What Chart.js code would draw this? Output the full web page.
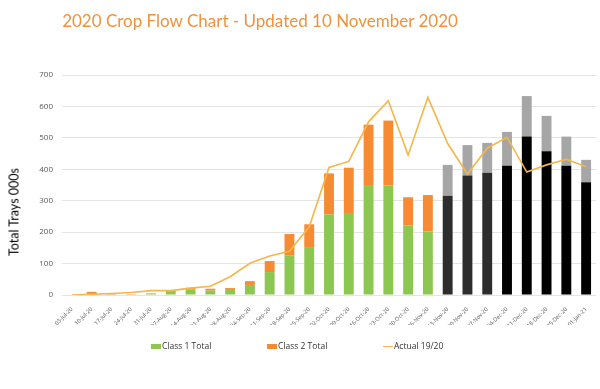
<!DOCTYPE html>
<html>
<head>
<meta charset="utf-8">
<script src="https://cdn.jsdelivr.net/npm/chart.js@4.4.1/dist/chart.umd.min.js"></script>
<style>
  html, body { margin: 0; padding: 0; background: #ffffff; }
  #wrap { position: relative; width: 600px; height: 389px; overflow: hidden; }
  #chart { position: absolute; left: 0; top: 0; }
  #title { position: absolute; left: 0; width: 520px; top: 10px; text-align: center;
           font-family: Lato, "Open Sans", sans-serif; font-size: 17px; color: #F0923B; white-space: nowrap; }
  #ytitle { position: absolute; left: 14px; top: 212px; transform: translate(-50%, -50%) rotate(-90deg);
            font-family: Lato, "Open Sans", sans-serif; font-size: 12.5px; font-weight: 400; color: #000; white-space: nowrap; }
  #legend { position: absolute; top: 339px; left: 0; width: 600px; height: 14px;
            font-family: "Open Sans", Lato, sans-serif; font-size: 8.5px; color: #333; }
  .li { position: absolute; top: 0; height: 14px; line-height: 14px; white-space: nowrap; }
  .sw { display: inline-block; vertical-align: middle; width: 10px; margin-right: 1px; }
</style>
</head>
<body>
<div id="wrap">
  <canvas id="chart" width="600" height="389"></canvas>
  <div id="title">2020 Crop Flow Chart - Updated 10 November 2020</div>
  <div id="ytitle">Total Trays 000s</div>
  <div id="legend"></div>
</div>
<script>
const weeks = ['03-Jul-20','10-Jul-20','17-Jul-20','24-Jul-20','31-Jul-20','07-Aug-20','14-Aug-20','21-Aug-20','28-Aug-20',
  '04-Sep-20','11-Sep-20','18-Sep-20','25-Sep-20','02-Oct-20','09-Oct-20','16-Oct-20','23-Oct-20','30-Oct-20','06-Nov-20',
  '13-Nov-20','20-Nov-20','27-Nov-20','04-Dec-20','11-Dec-20','18-Dec-20','25-Dec-20','01-Jan-21'];

const class1Total = [0, 6, 2, 2, 3, 10, 17, 14, 19, 32, 73, 125, 150, 256, 258, 350, 348, 221, 202,
  null, null, null, null, null, null, null, null];
const class2Total = [0, 4, 2, 1, 2, 3, 6, 6, 3, 12, 35, 69, 75, 131, 147, 192, 207, 90, 116,
  null, null, null, null, null, null, null, null];
const forecastClass1 = [null, null, null, null, null, null, null, null, null, null, null, null, null, null, null, null, null, null, null,
  316, 380, 389, 411, 504, 457, 411, 359];
const forecastClass2 = [null, null, null, null, null, null, null, null, null, null, null, null, null, null, null, null, null, null, null,
  98, 97, 95, 108, 129, 113, 93, 71];
const actual1920 = [0, 2, 5, 8, 14, 14, 22, 28, 58, 101, 124, 139, 217, 406, 425, 551, 618, 445, 629,
  482, 385, 467, 502, 391, 414, 432, 408];
const yTicks = [0, 100, 200, 300, 400, 500, 600, 700];

const GREEN = '#8cc751', ORANGE = '#f68b33', LINE = '#f5b64a', GREY = '#a6a6a6';
const forecastBaseColors = weeks.map((w, i) => i < 22 ? '#2d2d2d' : '#000000');

const chart = new Chart(document.getElementById('chart'), {
  type: 'bar',
  data: {
    labels: weeks,
    datasets: [
      { type: 'line', label: 'Actual 19/20', data: actual1920, borderColor: LINE, backgroundColor: LINE,
        borderWidth: 1.6, pointRadius: 0, tension: 0, fill: false, order: 0, stack: 'line' },
      { label: 'Class 1 Total', data: class1Total, backgroundColor: GREEN, order: 1, stack: 'bars' },
      { label: 'Class 2 Total', data: class2Total, backgroundColor: ORANGE, order: 1, stack: 'bars' },
      { label: 'Forecast Class 1', data: forecastClass1, backgroundColor: forecastBaseColors, order: 1, stack: 'bars' },
      { label: 'Forecast Class 2', data: forecastClass2, backgroundColor: GREY, order: 1, stack: 'bars' }
    ]
  },
  options: {
    responsive: false,
    animation: false,
    layout: { padding: { top: 75, right: 4, bottom: 64, left: 0 } },
    datasets: { bar: { categoryPercentage: 1.0, barPercentage: 0.5 } },
    plugins: { legend: { display: false }, title: { display: false }, tooltip: { enabled: false } },
    scales: {
      x: {
        stacked: true,
        grid: { display: false },
        border: { display: false },
        ticks: { color: '#595959', font: { family: '"Open Sans", Lato, sans-serif', size: 5.6 },
                 minRotation: 45, maxRotation: 45, autoSkip: false, padding: 3 },
        afterFit: s => { s.height = 30; }
      },
      y: {
        stacked: true,
        min: 0, max: 700,
        afterBuildTicks: s => { s.ticks = yTicks.map(v => ({ value: v })); },
        grid: { color: '#e4e4e4', lineWidth: 1, drawTicks: false },
        border: { display: false },
        ticks: { color: '#595959', font: { family: '"Open Sans", Lato, sans-serif', size: 8 }, padding: 9 },
        afterFit: s => { s.width = 62; }
      }
    }
  }
});

// HTML legend built from the chart's datasets
const legendX = [151, 267, 383];
const legendOrder = ['Class 1 Total', 'Class 2 Total', 'Actual 19/20'];
const legendEl = document.getElementById('legend');
legendOrder.forEach((name, k) => {
  const ds = chart.data.datasets.find(d => d.label === name);
  const item = document.createElement('div');
  item.className = 'li';
  item.style.left = legendX[k] + 'px';
  const sw = document.createElement('span');
  sw.className = 'sw';
  if (ds.type === 'line') { sw.style.height = '1.5px'; sw.style.background = ds.borderColor; }
  else { sw.style.height = '5px'; sw.style.background = ds.backgroundColor; }
  item.appendChild(sw);
  item.appendChild(document.createTextNode(ds.label));
  legendEl.appendChild(item);
});
</script>
</body>
</html>
